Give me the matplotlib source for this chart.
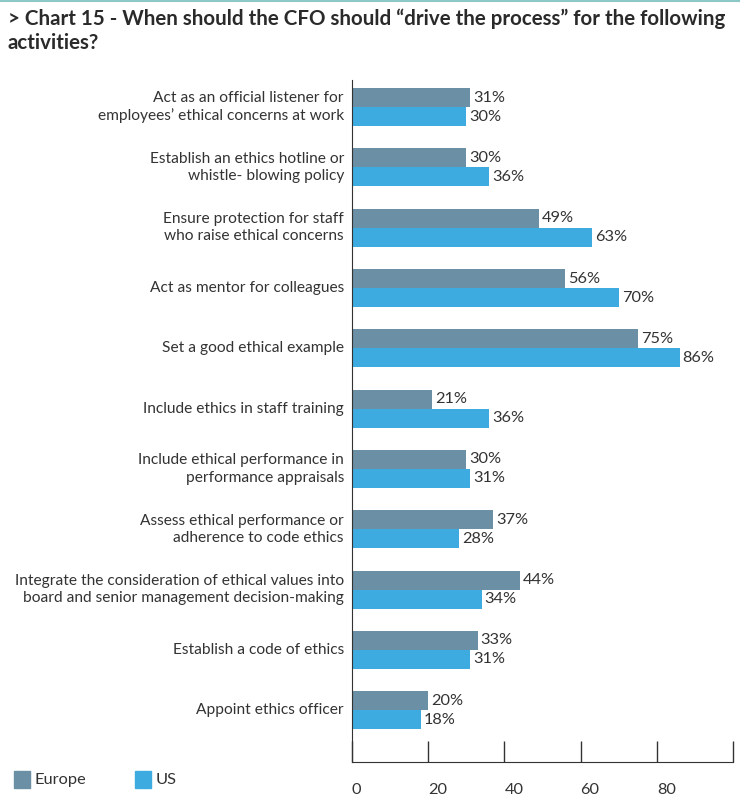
import matplotlib.pyplot as plt
import numpy as np
from matplotlib.patches import Rectangle
from matplotlib.lines import Line2D

plt.rcParams['font.family'] = ['Lato', 'DejaVu Sans']

# Data
activities = [
    "Act as an official listener for\nemployees\u2019 ethical concerns at work",
    "Establish an ethics hotline or\nwhistle- blowing policy",
    "Ensure protection for staff\nwho raise ethical concerns",
    "Act as mentor for colleagues",
    "Set a good ethical example",
    "Include ethics in staff training",
    "Include ethical performance in\nperformance appraisals",
    "Assess ethical performance or\nadherence to code ethics",
    "Integrate the consideration of ethical values into\nboard and senior management decision-making",
    "Establish a code of ethics",
    "Appoint ethics officer",
]
europe = [31, 30, 49, 56, 75, 21, 30, 37, 44, 33, 20]
us = [30, 36, 63, 70, 86, 36, 31, 28, 34, 31, 18]
series_names = ["Europe", "US"]
tick_values = [0, 20, 40, 60, 80]

c_eu = '#6b8fa5'
c_us = '#3dabe0'
txt = '#333333'

fig = plt.figure(figsize=(7.4, 8.02), dpi=100)
ax = fig.add_axes([352 / 740, 1 - 762 / 802, (733 - 352) / 740, (762 - 80) / 802])

y = np.arange(len(activities))
h = 0.315
ax.barh(y - h / 2, europe, height=h, color=c_eu)
ax.barh(y + h / 2, us, height=h, color=c_us)

for i in range(len(activities)):
    ax.text(europe[i] + 0.8, y[i] - h / 2, f"{europe[i]}%", va='center', ha='left',
            fontsize=11.8, color=txt)
    ax.text(us[i] + 0.8, y[i] + h / 2, f"{us[i]}%", va='center', ha='left',
            fontsize=11.8, color=txt)
    ax.text(-2.1, y[i], activities[i], va='center', ha='right', fontsize=11.2,
            color=txt, linespacing=1.3)

ax.set_xlim(0, 100)
ax.set_ylim(10.86, -0.45)
ax.set_yticks([])
ax.set_xticks(tick_values + [100])
ax.set_xticklabels([])
ax.tick_params(axis='x', direction='in', length=15, width=1, color=txt)
for v in tick_values:
    ax.text(v, -0.031, str(v), transform=ax.get_xaxis_transform(), ha='left', va='top',
            fontsize=11.8, color=txt)
for s in ['top', 'right']:
    ax.spines[s].set_visible(False)
ax.spines['left'].set_color(txt)
ax.spines['bottom'].set_color(txt)

# title
fig.text(8 / 740, 1 - 9 / 802,
         "> Chart 15 - When should the CFO should \u201cdrive the process\u201d for the following\nactivities?",
         ha='left', va='top', fontsize=14.8, fontweight='bold', color='#2a2a2a', linespacing=1.2)

# thin line at top
fig.add_artist(Line2D([0, 1], [1 - 1 / 802, 1 - 1 / 802], color='#8cc8c8', lw=1.5,
                      transform=fig.transFigure))

# legend
for x0, col, name in [(14, c_eu, series_names[0]), (135, c_us, series_names[1])]:
    fig.add_artist(Rectangle((x0 / 740, 1 - 788 / 802), 16 / 740, 17 / 802,
                             transform=fig.transFigure, color=col))
    fig.text((x0 + 21) / 740, 1 - 780 / 802, name, ha='left', va='center',
             fontsize=11.8, color=txt)

fig.savefig('out.png', dpi=100)
